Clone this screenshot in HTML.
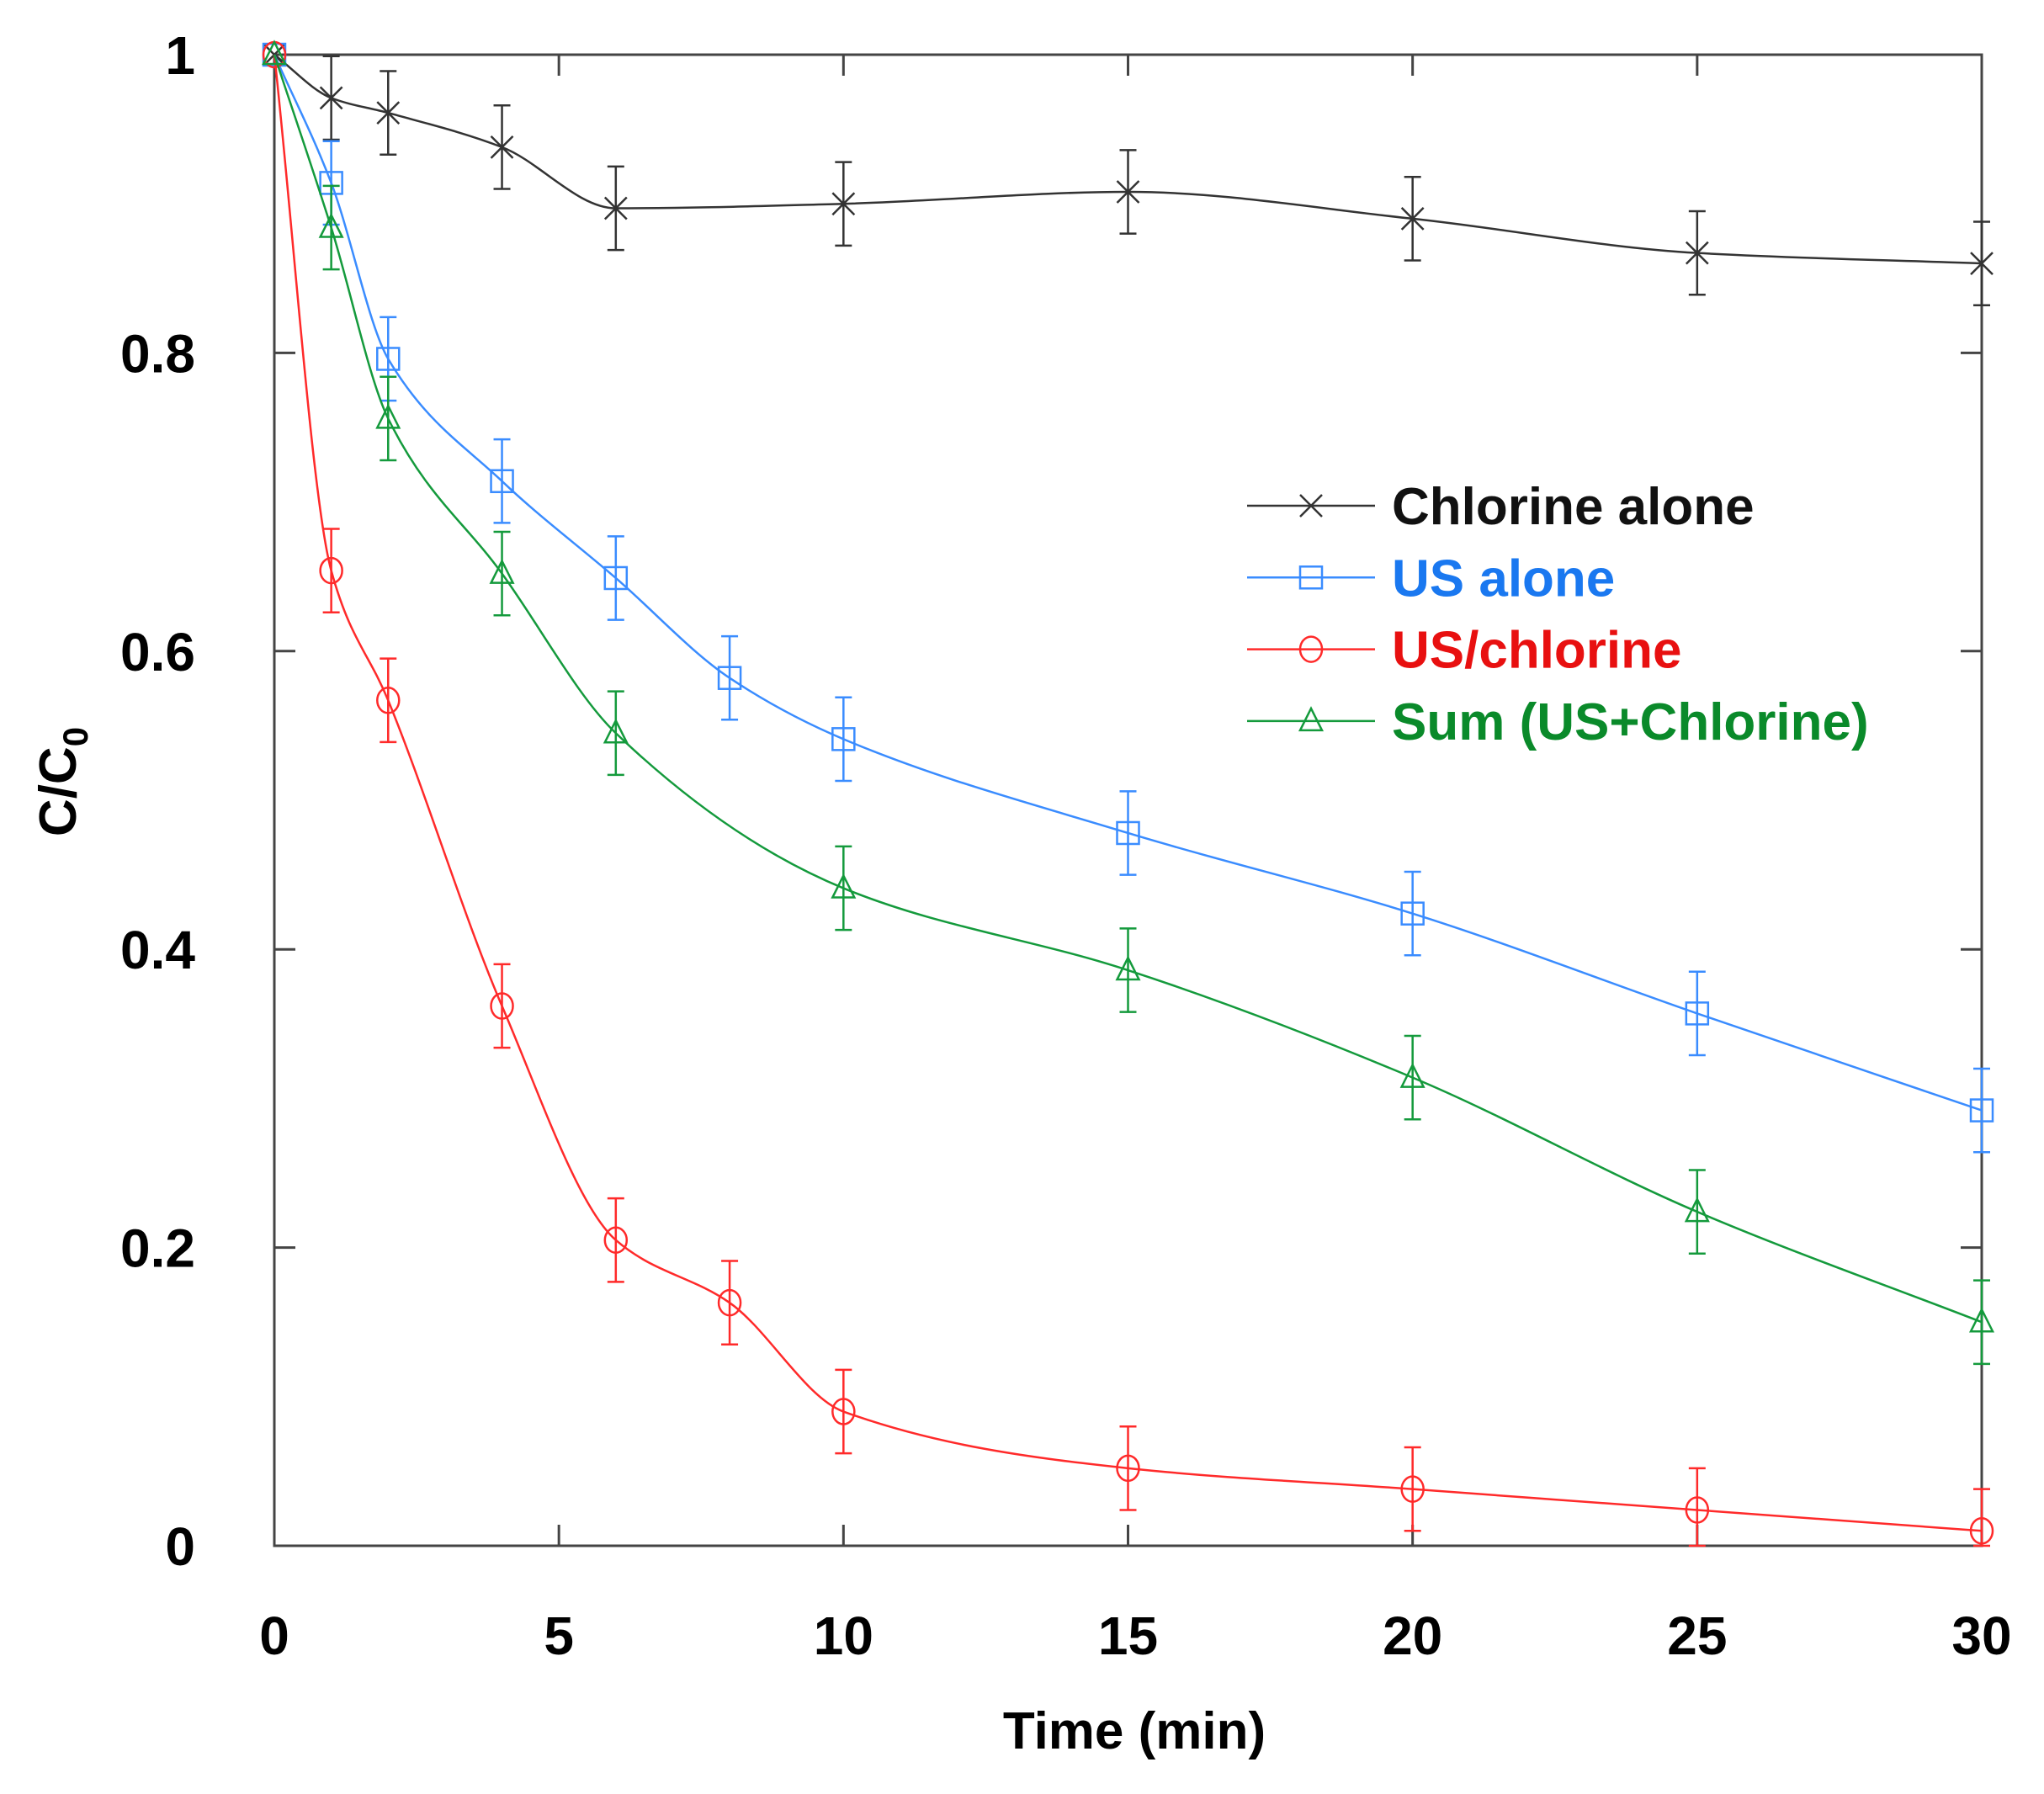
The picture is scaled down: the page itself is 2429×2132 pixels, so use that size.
<!DOCTYPE html>
<html><head><meta charset="utf-8"><style>
html,body{margin:0;padding:0;background:#fff;}
svg{display:block;font-family:"Liberation Sans",Arial,sans-serif;font-weight:bold;}
</style></head><body>
<svg id="chart" width="2429" height="2132" viewBox="0 0 2429 2132" xmlns="http://www.w3.org/2000/svg"></svg>
<script>
const chlorineT = [0,1,2,4,6,10,15,20,25,30];
const chlorineV = [1,0.971,0.961,0.938,0.897,0.9,0.908,0.89,0.867,0.86];
const usT = [0,1,2,4,6,8,10,15,20,25,30];
const usV = [1,0.914,0.796,0.714,0.649,0.582,0.541,0.478,0.424,0.357,0.292];
const usClT = [0,1,2,4,6,8,10,15,20,25,30];
const usClV = [1,0.654,0.567,0.362,0.205,0.163,0.09,0.052,0.038,0.024,0.01];
const sumT = [0,1,2,4,6,10,15,20,25,30];
const sumV = [1,0.884,0.756,0.652,0.545,0.441,0.386,0.314,0.224,0.15];
const errV = 0.028;
const xTicks = [0,5,10,15,20,25,30];
const yTicks = [0,0.2,0.4,0.6,0.8,1];
const yTickLabels = ["0","0.2","0.4","0.6","0.8","1"];

const L=326,R=2355,T=65,B=1837;
const sx=v=>L+(v/30)*(R-L);
const sy=v=>B-v*(B-T);
const NS="http://www.w3.org/2000/svg";
const svg=document.getElementById('chart');
function el(tag,attrs,parent){const e=document.createElementNS(NS,tag);for(const k in attrs)e.setAttribute(k,attrs[k]);(parent||svg).appendChild(e);return e;}

const frame=el('rect',{x:L,y:T,width:R-L,height:B-T,fill:'none',stroke:'#444','stroke-width':3});


xTicks.forEach(t=>{
  const x=sx(t);
  const a=el('line',{x1:x,y1:B,x2:x,y2:B-25,stroke:'#444','stroke-width':3});
  
  
  const b=el('line',{x1:x,y1:T,x2:x,y2:T+25,stroke:'#444','stroke-width':3});
  
  
  const tx=el('text',{x:x,y:1966,'font-size':64,'text-anchor':'middle',fill:'#000'});
  tx.textContent=String(t);
  
  
});
yTicks.forEach((t,i)=>{
  const y=sy(t);
  const a=el('line',{x1:L,y1:y,x2:L+25,y2:y,stroke:'#444','stroke-width':3});
  
  
  const b=el('line',{x1:R,y1:y,x2:R-25,y2:y,stroke:'#444','stroke-width':3});
  
  
  const tx=el('text',{x:232,y:y+23,'font-size':64,'text-anchor':'end',fill:'#000'});
  tx.textContent=yTickLabels[i];
  
  
});
const xt=el('text',{x:1348,y:2078,'font-size':62,'text-anchor':'middle',fill:'#000'});
xt.textContent='Time (min)';


const yt=el('text',{x:0,y:0,'font-size':62,'text-anchor':'middle',fill:'#000',transform:'translate(90,929) rotate(-90)'});
yt.innerHTML='C/C<tspan font-size="42" dy="14">0</tspan>';



// monotone cubic (Fritsch-Carlson) in data space
function curve(xs,ys){
  const n=xs.length, d=[], m=new Array(n);
  for(let i=0;i<n-1;i++) d.push((ys[i+1]-ys[i])/(xs[i+1]-xs[i]));
  m[0]=d[0]; m[n-1]=d[n-2];
  for(let i=1;i<n-1;i++){
    if(d[i-1]*d[i]<=0) m[i]=0;
    else{
      const h0=xs[i]-xs[i-1],h1=xs[i+1]-xs[i];
      const w1=2*h1+h0,w2=h1+2*h0;
      m[i]=(w1+w2)/(w1/d[i-1]+w2/d[i]);
    }
  }
  let p='M'+sx(xs[0])+','+sy(ys[0]);
  for(let i=0;i<n-1;i++){
    const h=xs[i+1]-xs[i];
    const c1x=xs[i]+h/3, c1y=ys[i]+m[i]*h/3;
    const c2x=xs[i+1]-h/3, c2y=ys[i+1]-m[i+1]*h/3;
    p+=' C'+sx(c1x)+','+sy(c1y)+' '+sx(c2x)+','+sy(c2y)+' '+sx(xs[i+1])+','+sy(ys[i+1]);
  }
  return p;
}
function marker(type,x,y,col,g){
  const s=13;
  if(type==='x'){
    el('path',{d:`M${x-s},${y-s}L${x+s},${y+s}M${x-s},${y+s}L${x+s},${y-s}`,stroke:col,'stroke-width':2.5,fill:'none'},g);
  }else if(type==='sq'){
    el('rect',{x:x-s,y:y-s,width:2*s,height:2*s,stroke:col,'stroke-width':2.5,fill:'none'},g);
  }else if(type==='o'){
    el('ellipse',{cx:x,cy:y,rx:s,ry:s+2,stroke:col,'stroke-width':2.5,fill:'none'},g);
  }else{
    el('path',{d:`M${x},${y-s-2}L${x+s},${y+s-2}L${x-s},${y+s-2}Z`,stroke:col,'stroke-width':2.5,fill:'none'},g);
  }
}
const series=[
  {name:'chlorine-alone',t:chlorineT,v:chlorineV,col:'#333333',m:'x'},
  {name:'us-alone',t:usT,v:usV,col:'#3a8cff',m:'sq'},
  {name:'us-chlorine',t:usClT,v:usClV,col:'#ff2a2a',m:'o'},
  {name:'sum-us-chlorine',t:sumT,v:sumV,col:'#149a3c',m:'tri'}
];
series.forEach(s=>{
  const g=el('g',{});
  
  
  const path=el('path',{d:curve(s.t,s.v),stroke:s.col,'stroke-width':2.5,fill:'none'},g);
  
  
  s.t.forEach((t,i)=>{
    const x=sx(t),y=sy(s.v[i]);
    if(t>0){
      const y1=sy(s.v[i]+errV),y2=sy(Math.max(0,s.v[i]-errV));
      el('path',{d:`M${x},${y1}L${x},${y2}M${x-10},${y1}L${x+10},${y1}M${x-10},${y2}L${x+10},${y2}`,stroke:s.col,'stroke-width':2.5,fill:'none'},g);
    }
    marker(s.m,x,y,s.col,g);
  });
});
const legendText=[['Chlorine alone','#111111'],['US alone','#1a78f0'],['US/chlorine','#e81010'],['Sum (US+Chlorine)','#0a8a2a']];
const lg=el('g',{});


series.forEach((s,i)=>{
  const y=601+i*85.3;
  const g=el('g',{},lg);
  
  
  el('line',{x1:1482,y1:y,x2:1634,y2:y,stroke:s.col,'stroke-width':2.5},g);
  marker(s.m,1558,y,s.col,g);
  const tx=el('text',{x:1654,y:y+22,'font-size':62,fill:legendText[i][1]},g);
  tx.textContent=legendText[i][0];
});
</script>
</body></html>
